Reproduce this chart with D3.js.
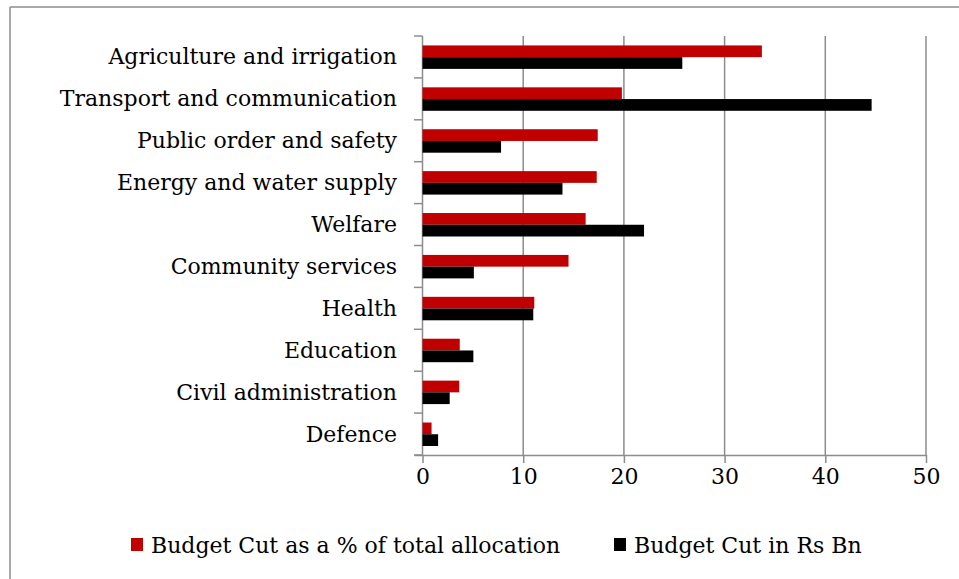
<!DOCTYPE html>
<html>
<head>
<meta charset="utf-8">
<script src="https://cdn.jsdelivr.net/npm/d3@7"></script>
<style>
  html, body { margin: 0; padding: 0; background: #fff; }
  svg { display: block; }
  text { font-family: "DejaVu Serif", "Liberation Serif", serif; fill: #000; }
</style>
</head>
<body>
<svg id="chart" width="959" height="579"></svg>
<script>
const categories = [
  "Agriculture and irrigation",
  "Transport and communication",
  "Public order and safety",
  "Energy and water supply",
  "Welfare",
  "Community services",
  "Health",
  "Education",
  "Civil administration",
  "Defence"
];
const seriesNames = ["Budget Cut as a % of total allocation", "Budget Cut in Rs Bn"];
const pctValues = [33.7, 19.8, 17.4, 17.3, 16.2, 14.5, 11.1, 3.7, 3.65, 0.9];
const rsBnValues = [25.8, 44.6, 7.8, 13.9, 22.0, 5.1, 11.0, 5.05, 2.7, 1.55];
const xTicks = [0, 10, 20, 30, 40, 50];
const colors = ["#c00000", "#000000"];

const svg = d3.select("#chart");
const gridColor = "#8c8c8c";
const fontFamily = "DejaVu Serif";
const fontSize = 22;

// outer frame (top and left edges visible)
svg.append("line").attr("x1", 10).attr("x2", 959).attr("y1", 7).attr("y2", 7)
  .attr("stroke", gridColor).attr("stroke-width", 1.5);
svg.append("line").attr("x1", 10).attr("x2", 10).attr("y1", 7).attr("y2", 579)
  .attr("stroke", gridColor).attr("stroke-width", 1.5);

const x = d3.scaleLinear().domain([0, 50]).range([422.5, 926]);
const y = d3.scaleBand().domain(categories).range([36, 455]).paddingInner(0).paddingOuter(0);
const step = y.bandwidth();
const inner = d3.scaleBand().domain([0, 1]).range([step * 0.225, step * 0.785]);

// vertical gridlines
svg.append("g").selectAll("line").data(xTicks.filter(d => d > 0)).join("line")
  .attr("x1", d => x(d)).attr("x2", d => x(d))
  .attr("y1", 36).attr("y2", 455)
  .attr("stroke", gridColor).attr("stroke-width", 1.5);

// x axis
const xAxis = svg.append("g").attr("transform", "translate(0,455)")
  .call(d3.axisBottom(x).tickValues(xTicks).tickSize(8).tickPadding(5).tickSizeOuter(0));
xAxis.select(".domain").attr("stroke", gridColor).attr("stroke-width", 1.5)
  .attr("d", `M${x(0) - 8},0.5H${x(50)}`);
xAxis.selectAll(".tick line").attr("stroke", gridColor).attr("stroke-width", 1.5);
xAxis.selectAll("text").attr("font-size", fontSize).attr("font-family", fontFamily).attr("fill", "#000");

// y axis (category boundary ticks)
const boundaries = categories.map(c => y(c)).concat([455]);
svg.append("g").selectAll("line").data(boundaries).join("line")
  .attr("x1", 414).attr("x2", x(0)).attr("y1", d => d).attr("y2", d => d)
  .attr("stroke", gridColor).attr("stroke-width", 1.5);
svg.append("line").attr("x1", x(0)).attr("x2", x(0)).attr("y1", 36).attr("y2", 455)
  .attr("stroke", gridColor).attr("stroke-width", 1.5);

// category labels
svg.append("g").selectAll("text").data(categories).join("text")
  .attr("x", 397).attr("y", d => y(d) + step / 2)
  .attr("text-anchor", "end").attr("dominant-baseline", "central")
  .attr("font-size", fontSize).text(d => d);

// bars
const series = [pctValues, rsBnValues];
series.forEach((vals, si) => {
  svg.append("g").selectAll("rect").data(vals).join("rect")
    .attr("x", x(0))
    .attr("y", (d, i) => y(categories[i]) + inner(si))
    .attr("width", d => x(d) - x(0))
    .attr("height", inner.bandwidth())
    .attr("fill", colors[si]);
});

// legend
const legendItems = [
  { name: seriesNames[0], color: colors[0], x: 131 },
  { name: seriesNames[1], color: colors[1], x: 614 }
];
const lg = svg.append("g");
legendItems.forEach(it => {
  lg.append("rect").attr("x", it.x).attr("y", 538).attr("width", 12).attr("height", 13).attr("fill", it.color);
  lg.append("text").attr("x", it.x + 20).attr("y", 545).attr("dominant-baseline", "central")
    .attr("font-size", fontSize).text(it.name);
});
</script>
</body>
</html>
